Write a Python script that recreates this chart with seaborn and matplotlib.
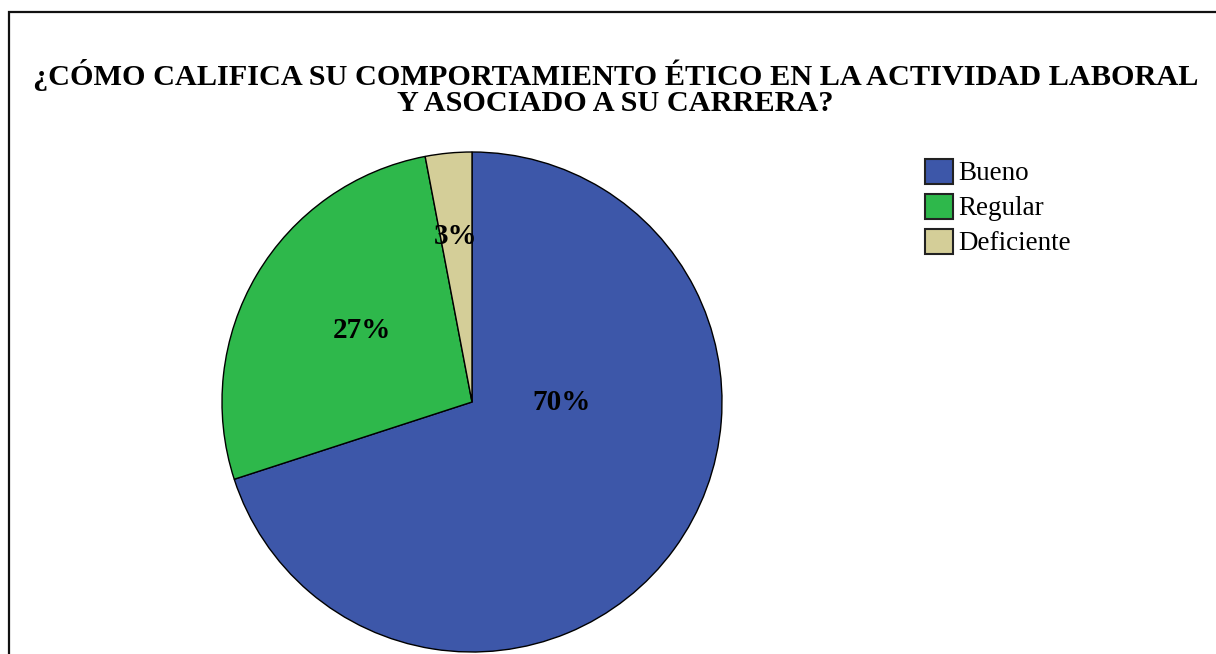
import matplotlib
matplotlib.use("Agg")
import matplotlib.pyplot as plt
import seaborn as sns
from matplotlib.patches import Rectangle

categories = ["Bueno", "Regular", "Deficiente"]
values = [70, 27, 3]
pct_labels = ["70%", "27%", "3%"]
colors = ["#3D57A9", "#2EB84B", "#D4CE98"]
title_text = "¿CÓMO CALIFICA SU COMPORTAMIENTO ÉTICO EN LA ACTIVIDAD LABORAL\nY ASOCIADO A SU CARRERA?"

sns.set_theme(style="white")
plt.rcParams["font.family"] = ["Liberation Serif", "DejaVu Serif"]
plt.rcParams["text.color"] = "black"

fig = plt.figure(figsize=(12.16, 6.54), dpi=100)
fig.patch.set_facecolor("white")

# outer frame
fig.patches.append(Rectangle((9 / 1216, -0.2), 1.5, 1.2 - 12 / 654, transform=fig.transFigure,
                             fill=False, edgecolor="#111111", linewidth=1.6, zorder=0))

ax = fig.add_axes([222 / 1216, 2 / 654, 500 / 1216, 500 / 654])
palette = sns.color_palette(colors)
wedges, texts = ax.pie(values, colors=palette, startangle=90, counterclock=False,
                       wedgeprops=dict(edgecolor="black", linewidth=1.0), radius=1.0)
ax.set_xlim(-1, 1)
ax.set_ylim(-1, 1)
ax.set_aspect("equal")
ax.axis("off")

label_pos = [(0.36, 0.0), (-0.44, 0.285), (-0.065, 0.66)]
for lab, (x, y) in zip(pct_labels, label_pos):
    ax.text(x, y, lab, ha="center", va="center", fontsize=21, fontweight="bold", color="black")

fig.text(0.506, 1 - 59 / 654, title_text, ha="center", va="top", fontsize=21.8,
         fontweight="bold", linespacing=0.96, color="black")

leg = fig.legend(wedges, categories, loc="upper left", bbox_to_anchor=(914 / 1216, 1 - 148 / 654),
                 frameon=False, fontsize=19.5, handlelength=1.03, handleheight=1.03,
                 handletextpad=0.2, labelspacing=0.27, borderaxespad=0)
for t in leg.get_texts():
    t.set_color("black")
for h in leg.legend_handles:
    h.set_edgecolor("#222222")
    h.set_linewidth(1.5)

fig.savefig("out.png", dpi=100)
